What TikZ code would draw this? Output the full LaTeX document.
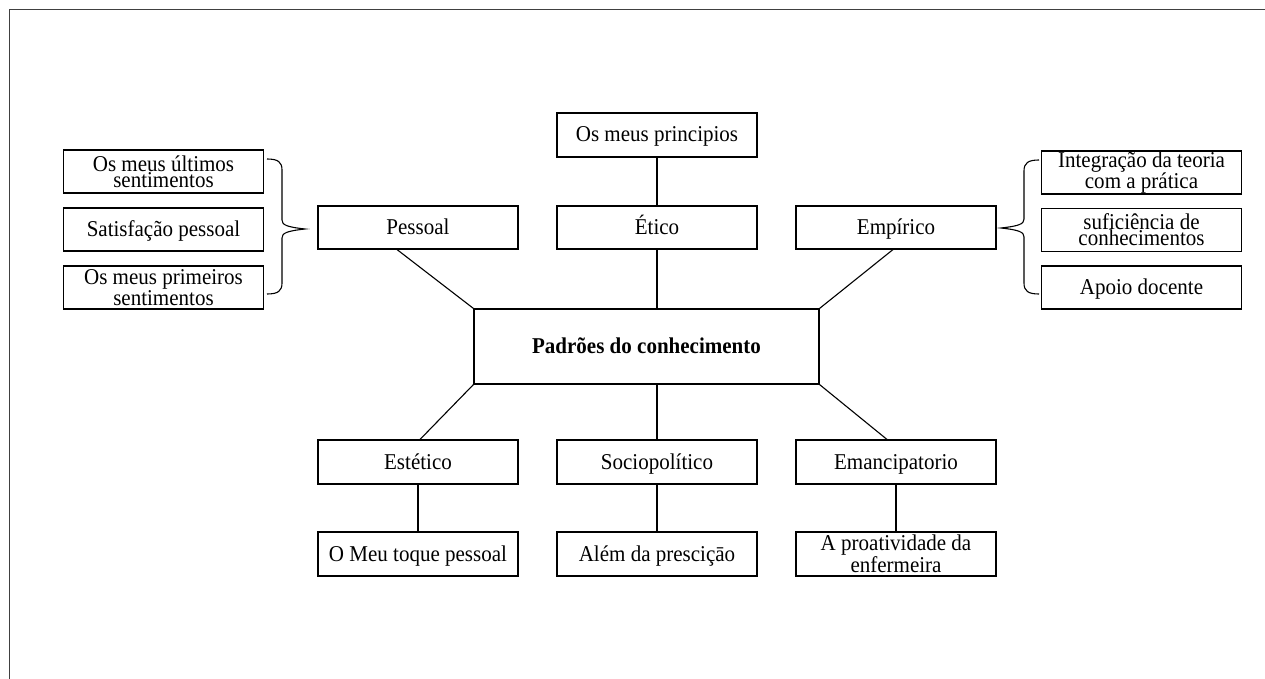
\documentclass[tikz,border=0pt]{standalone}
\usepackage{fontspec}
\setmainfont[FakeStretch=0.93]{Liberation Serif}
\usetikzlibrary{calc}
\begin{document}
\begin{tikzpicture}[x=1pt,y=-1pt, line width=1.1pt,
  box/.style={draw, rectangle, minimum width=200pt, minimum height=44pt, inner sep=0pt, align=center, font=\fontsize{22.6}{16}\selectfont},
  one/.style={text height=15pt, text depth=1pt},
  link/.style={draw, line width=1.1pt},
  frameline/.style={draw=black!75, line width=1pt}]
\useasboundingbox (0,0) rectangle (1265,679);
\coordinate (fbl) at (9,679);
\coordinate (ftl) at (9,10);
\coordinate (ftr) at (1265,10);
\draw[frameline] (fbl) -- (ftl) -- (ftr);

% top row
\node[box, one] (princ) at (657,135) {Os meus principios};
\node[box, one, minimum height=43pt] (pess) at (418,227.5) {Pessoal};
\node[box, one, minimum height=43pt] (etico) at (657,227.5) {Ético};
\node[box, one, minimum height=43pt] (emp) at (896,227.5) {Empírico};

% centre
\node[box, one, minimum width=345pt, minimum height=75pt, font=\fontsize{22.6}{16}\selectfont\bfseries] (centre) at (646.5,346.5) {Padrões do conhecimento};

% lower rows
\node[box, one] (est) at (418,462) {Estético};
\node[box, one] (socio) at (657,462) {Sociopolítico};
\node[box, one] (emanc) at (896,462) {Emancipatorio};
\node[box, one] (toque) at (418,554) {O Meu toque pessoal};
\node[box, one] (alem) at (657,554) {Além da presciçāo};
\node[box] (proat) at (896,554) {A proatividade da\\enfermeira};

% left column
\node[box, minimum height=43pt] (l1) at (163.5,171.5) {Os meus últimos\\sentimentos};
\node[box, one, minimum height=43pt] (l2) at (163.5,229.5) {Satisfação pessoal};
\node[box, minimum height=43pt] (l3) at (163.5,287.5) {Os meus primeiros\\sentimentos};

% right column
\node[box, minimum height=43pt] (r1) at (1141.5,172.5) {Integração da teoria\\com a prática};
\node[box, minimum height=43pt] (r2) at (1141.5,230) {suficiência de\\conhecimentos};
\node[box, one, minimum height=43pt] (r3) at (1141.5,287.5) {Apoio docente};

% connectors
\draw[link] (princ) -- (etico);
\draw[link] (etico) -- (etico |- centre.north);
\draw[link] ($(pess.south)+(-21,0)$) -- (centre.north west);
\draw[link] ($(emp.south)+(-3,0)$) -- (centre.north east);
\draw[link] (centre.south west) -- ($(est.north)+(2,0)$);
\draw[link] (centre.south east) -- ($(emanc.north)+(-9,0)$);
\draw[link] (socio |- centre.south) -- (socio);
\draw[link] (est) -- (toque);
\draw[link] (socio) -- (alem);
\draw[link] (emanc) -- (proat);

% braces
\coordinate (ltip) at (305,229);
\coordinate (rtip) at (1001,228);
\draw[link] (267,159) .. controls (278,159) and (282,162) .. (282,170) -- (282,220)
  .. controls (282,225) and (287,227) .. (ltip)
  .. controls (287,231) and (282,233) .. (282,238) -- (282,283)
  .. controls (282,291) and (278,294) .. (267,294);
\draw[link] (1039,160) .. controls (1028,160) and (1024,163) .. (1024,171) -- (1024,219)
  .. controls (1024,224) and (1019,226) .. (rtip)
  .. controls (1019,230) and (1024,232) .. (1024,237) -- (1024,283)
  .. controls (1024,291) and (1028,294) .. (1039,294);
\end{tikzpicture}
\end{document}
